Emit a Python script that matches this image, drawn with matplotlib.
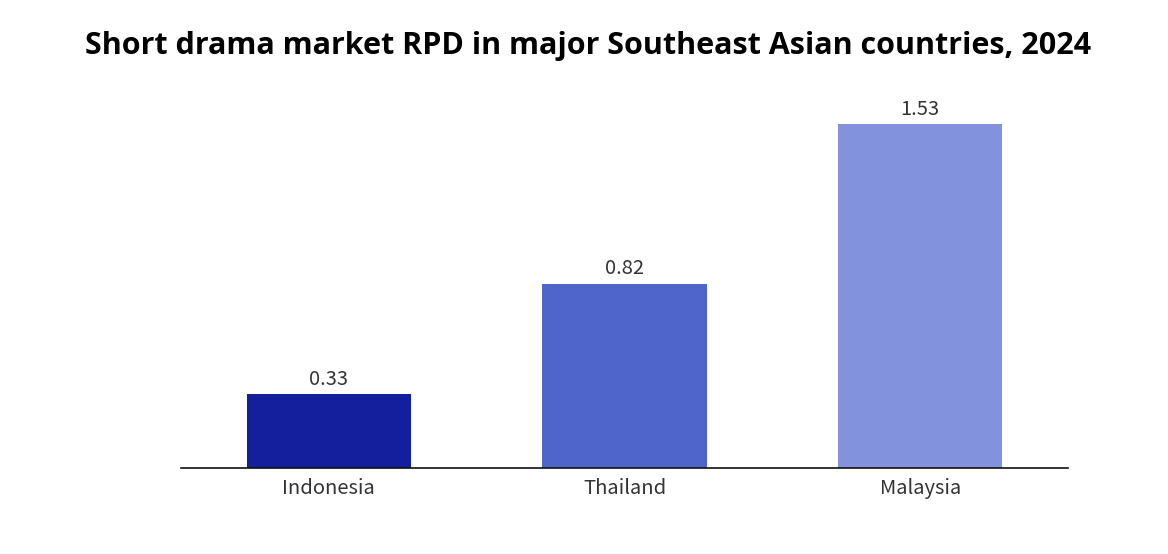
import matplotlib
matplotlib.use("Agg")
import matplotlib.pyplot as plt

categories = ["Indonesia", "Thailand", "Malaysia"]
values = [0.33, 0.82, 1.53]
colors = ["#131F9C", "#4F65CB", "#8392DC"]
title = "Short drama market RPD in major Southeast Asian countries, 2024"

lab_font = ["Noto Sans CJK SC", "DejaVu Sans"]
fig = plt.figure(figsize=(11.68, 5.54), dpi=100)
ax = fig.add_axes([181/1168, 86/554, 887/1168, 360/554])
x = range(len(categories))
bars = ax.bar(x, values, width=0.555, color=colors)
ax.set_xlim(-0.5, 2.5)
ax.set_ylim(0, 1.6)
for s in ["top", "right", "left"]:
    ax.spines[s].set_visible(False)
ax.spines["bottom"].set_linewidth(1.2)
ax.spines["bottom"].set_color("#111111")
ax.set_yticks([])
ax.set_xticks(list(x))
ax.set_xticklabels(categories, fontsize=14.5, color="#333333", family=lab_font, fontweight=300)
ax.tick_params(axis="x", length=0, pad=7)
for b, v in zip(bars, values):
    ax.annotate(f"{v:.2f}", (b.get_x() + b.get_width()/2, v), xytext=(0, 3),
                textcoords="offset points", ha="center", va="bottom",
                fontsize=14.5, color="#333333", family=lab_font, fontweight=300)
fig.text(588/1168, 1 - 46/554, title, ha="center", va="center", fontsize=22,
         fontweight="bold", family=["Open Sans", "DejaVu Sans"], color="#000000")
fig.savefig("out.png", dpi=100, facecolor="white")
